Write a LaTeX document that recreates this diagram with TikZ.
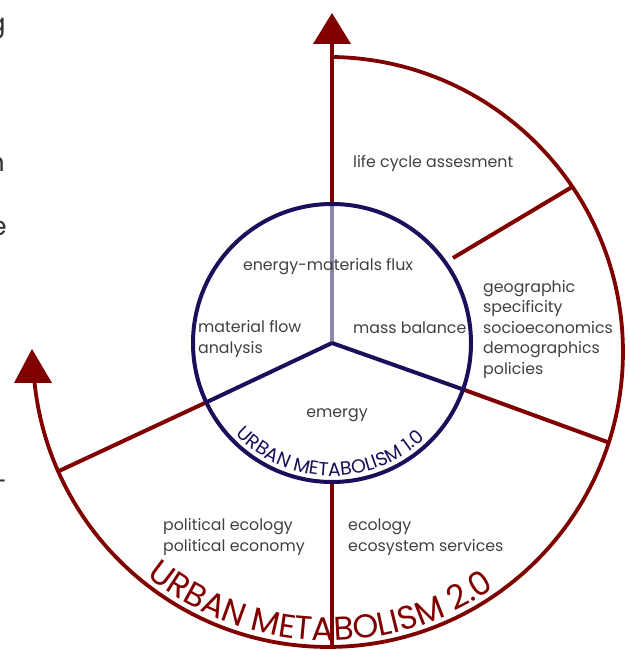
\documentclass[tikz,border=0pt]{standalone}
\usepackage{fontspec}
\setmainfont{Poppins}
\usetikzlibrary{decorations.text}
\definecolor{umred}{RGB}{128,0,0}
\definecolor{umnavy}{RGB}{25,15,90}
\definecolor{umlight}{RGB}{140,136,170}
\definecolor{umtext}{RGB}{64,64,64}
\definecolor{umfrag}{RGB}{50,50,50}
\begin{document}
\begin{tikzpicture}[x=1pt,y=1pt,
  redline/.style={umred, line width=4pt},
  navyline/.style={umnavy, line width=4pt},
  lightline/.style={umlight, line width=4pt},
  lbl/.style={text=umtext, font=\fontsize{15.8}{20.5}\selectfont, inner sep=0pt, align=left},
  frag/.style={text=umfrag, font=\fontsize{26}{30}\selectfont, inner sep=0pt},
  tip/.style={fill=umred},
]
\useasboundingbox (0,0) rectangle (629,650);
% centres
\coordinate (C1) at (332,307);
\coordinate (C2) at (328,298);
% key points
\coordinate (topbase) at (332,606);
\coordinate (toptip) at (332,637);
\coordinate (topL) at (313,606);
\coordinate (topR) at (351,606);
\coordinate (innertop) at (332,446);
\coordinate (innerbot) at (332,168);
\coordinate (outerbot) at (332,3);
\coordinate (arcstart) at (333.1,593.0);
\coordinate (lefttip) at (32,301);
\coordinate (leftL) at (14,267);
\coordinate (leftR) at (52,267);
\coordinate (spokeL) at (206.3,247.7);
\coordinate (outL) at (59,179);
\coordinate (spokeR) at (463,260.6);
\coordinate (outR) at (610,207);
\coordinate (urA) at (453,392);
\coordinate (urB) at (572,463);

% outer spiral arc
\draw[redline, line width=3.8pt] (arcstart) arc[start angle=89, end angle=-174, radius=295];
\fill[tip] (lefttip) -- (leftL) -- (leftR) -- cycle;

% vertical axis
\draw[redline] (topbase) -- (innertop);
\draw[lightline] (innertop) -- (C1);
\fill[tip] (toptip) -- (topL) -- (topR) -- cycle;
\draw[redline] (innerbot) -- (outerbot);

% red dividers
\draw[redline] (spokeL) -- (outL);
\draw[redline] (spokeR) -- (outR);
\draw[redline] (urA) -- (urB);

% inner spokes and circle
\draw[navyline] (C1) -- (spokeL);
\draw[navyline] (C1) -- (spokeR);
\draw[navyline] (C1) circle[radius=139];

% labels
\node[lbl, anchor=base west] (lca) at (353,482) {life cycle assesment};
\node[lbl, anchor=base] (emf) at (328,379) {energy-materials flux};
\node[lbl, anchor=west] (mfa) at (198,311) {material flow\\analysis};
\node[lbl, anchor=base west] (mb) at (353,316) {mass balance};
\node[lbl, anchor=west] (geo) at (483,320.6) {geographic\\specificity\\socioeconomics\\demographics\\policies};
\node[lbl, anchor=base] (em) at (337,232) {emergy};
\node[lbl, anchor=west] (pol) at (163,113) {political ecology\\political economy};
\node[lbl, anchor=west] (eco) at (348,113) {ecology\\ecosystem services};

% curved titles
\path[decorate, decoration={text along path, text color=umred,
   text={|\fontsize{33}{33}\selectfont|URBAN METABOLISM 2.0}, text align=center}]
   (53.2,211.5) arc[start angle=197.5, end angle=338.5, radius=289];
\path[decorate, decoration={text along path, text color=umnavy,
   text={|\fontsize{19}{19}\selectfont|URBAN METABOLISM 1.0}, text align=center}]
   (206.25,263.7) arc[start angle=199, end angle=339, radius=133];

% cut-off text fragments at the left edge
\node[frag, anchor=base east] (f1) at (6,617) {g};
\node[frag, anchor=base east] (f2) at (5,478) {n};
\node[frag, anchor=base east] (f3) at (7,414) {e};
\node[frag, anchor=east] (f4) at (7,165) {–};
\end{tikzpicture}
\end{document}
